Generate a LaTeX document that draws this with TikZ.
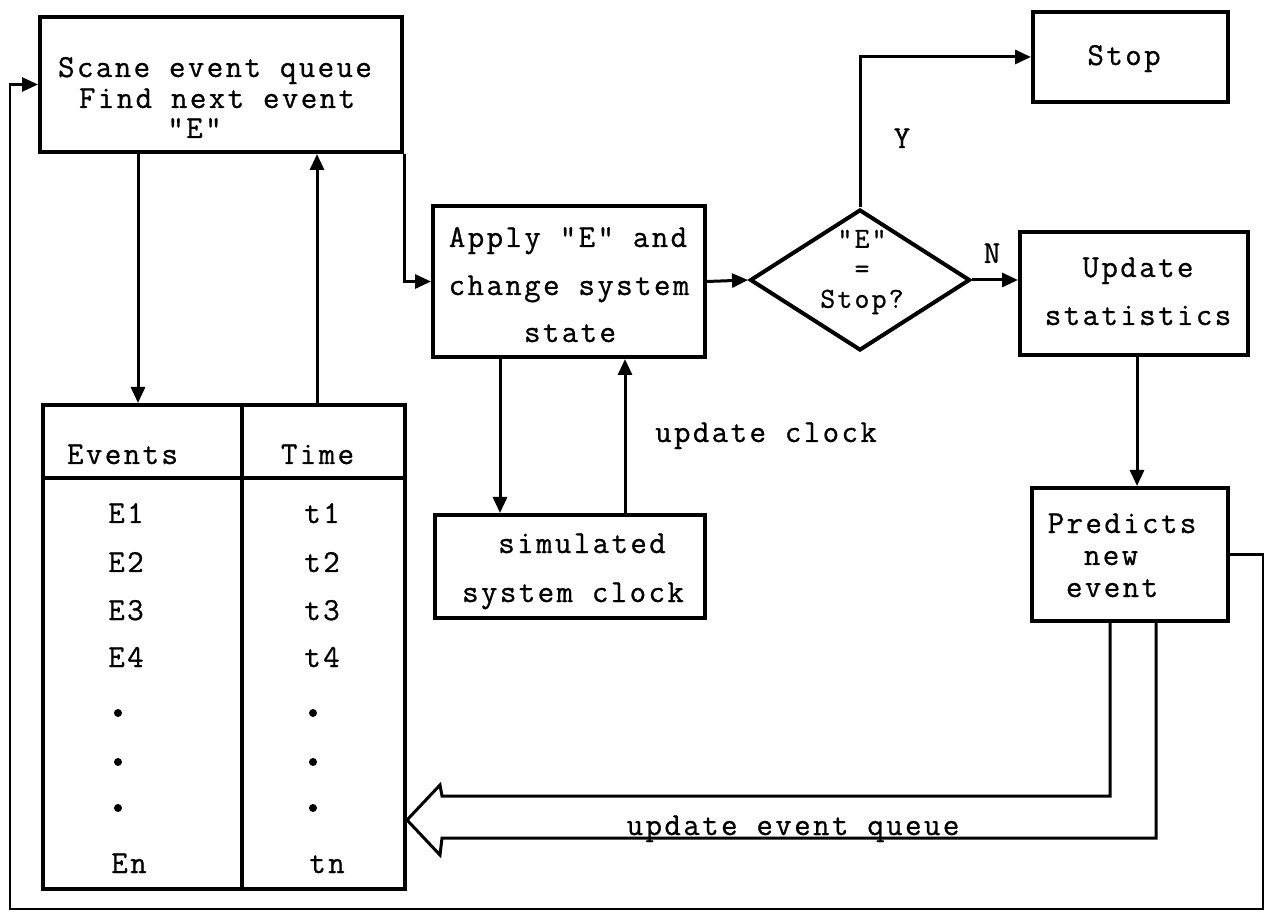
\documentclass[tikz,border=0pt]{standalone}
\usepackage{fontspec}
\newfontfamily\tw{Latin Modern Mono}[LetterSpace=7.5,FakeBold=0.8]
\usetikzlibrary{shapes.geometric,arrows.meta}
\begin{document}
\begin{tikzpicture}[x=0.5pt,y=-0.5pt,
  box/.style={draw,line width=2pt,rectangle,inner sep=0pt},
  conn/.style={line width=1.5pt,-{Triangle[length=8pt,width=7pt]}},
  plain/.style={line width=1.5pt,line join=miter},
  txt/.style={font=\tw\fontsize{16}{16}\selectfont,inner sep=0pt,anchor=base}]
\useasboundingbox (0,0) rectangle (1267,913);

% boxes
\node[box,minimum width=181pt,minimum height=67.5pt] (scan) at (221,84.5) {};
\node[box,minimum width=136pt,minimum height=75.5pt] (apply) at (569,281.5) {};
\node[box,minimum width=135pt,minimum height=51.5pt] (clock) at (570,566.5) {};
\node[box,minimum width=97.5pt,minimum height=45pt] (stop) at (1130.5,57) {};
\node[box,minimum width=114pt,minimum height=61.5pt] (upd) at (1134,293.5) {};
\node[box,minimum width=98pt,minimum height=66.5pt] (pred) at (1130,554.5) {};
\node[box,minimum width=181pt,minimum height=242pt] (tab) at (224,647) {};
\node[draw,line width=2pt,shape=diamond,inner sep=0pt,minimum width=110pt,minimum height=70.5pt] (dia) at (860,280) {};

% table rules
\coordinate (dv) at (242,0);
\coordinate (hl) at (0,478);
\draw[line width=2pt] (tab.north -| dv) -- (tab.south -| dv);
\draw[line width=2pt] (tab.west |- hl) -- (tab.east |- hl);

% helper coordinates
\coordinate (xa) at (138,0);
\coordinate (xb) at (317,0);
\coordinate (xc) at (1137,0);
\coordinate (xd) at (500,0);
\coordinate (xe) at (625,0);
\coordinate (xf) at (1110,0);
\coordinate (xg) at (1156,0);
\coordinate (hu) at (442,796);
\coordinate (hl2) at (442,838);
\coordinate (hb1) at (440,785);
\coordinate (hb2) at (440,855);
\coordinate (ht) at (407,820);
\coordinate (rb) at (1263,909);
\coordinate (lb) at (10,909);

% connectors
\draw[conn] (scan.south -| xa) -- (tab.north -| xa);
\draw[conn] (tab.north -| xb) -- (scan.south -| xb);
\draw[conn] (scan.south east) |- (apply.west);
\draw[conn] (apply.east) -- (dia.west);
\draw[conn] (dia.north) |- (stop.west);
\draw[conn] (dia.east) -- (dia.east -| upd.west);
\draw[conn] (upd.south -| xc) -- (pred.north -| xc);
\draw[conn] (apply.south -| xd) -- (clock.north -| xd);
\draw[conn] (clock.north -| xe) -- (apply.south -| xe);
\draw[conn,line width=1.3pt] (pred.east) -| (rb) -- (lb) |- (scan.west);
\draw[plain] (pred.south -| xf) |- (hu) -- (hb1) -- (ht) -- (hb2) -- (hl2) -| (pred.south -| xg);

% texts
\node[txt] (s1) at (215,77) {Scane event queue};
\node[txt] (s2) at (217,108) {Find next event};
\node[txt] (s3) at (194.5,138) {"E"};
\node[txt] (a1) at (568,247) {Apply "E" and};
\node[txt] (a2) at (569,295) {change system};
\node[txt] (a3) at (570,342) {state};
\node[txt,anchor=center,align=center,font=\tw\fontsize{14.5}{15}\selectfont] (dtxt) at (862,272) {"E"\\=\\Stop?};
\node[txt] (st) at (1124,65) {Stop};
\node[txt] (ylab) at (902,148) {Y};
\node[txt] (nlab) at (992,263) {N};
\node[txt] (u1) at (1138,277) {Update};
\node[txt] (u2) at (1138,325) {statistics};
\node[txt] (p1) at (1122,533) {Predicts};
\node[txt] (p2) at (1111,565) {new};
\node[txt] (p3) at (1112,597) {event};
\node[txt] (c1) at (582,553) {simulated};
\node[txt] (c2) at (573,602) {system clock};
\node[txt] (uc) at (766,442) {update clock};
\node[txt] (ue) at (793,835) {update event queue};
\node[txt] (ev) at (122.5,464) {Events};
\node[txt] (tm) at (317.5,464) {Time};
\node[txt] (e1) at (126,523) {E1};
\node[txt] (e2) at (126,572) {E2};
\node[txt] (e3) at (126,620) {E3};
\node[txt] (e4) at (126,667) {E4};
\node[txt] (en) at (129,873) {En};
\node[txt] (t1) at (322,523) {t1};
\node[txt] (t2) at (322,572) {t2};
\node[txt] (t3) at (322,620) {t3};
\node[txt] (t4) at (322,667) {t4};
\node[txt] (tn) at (327,873) {tn};
\foreach \yy in {713,762,808} {
  \fill (118,\yy) circle[radius=4];
  \fill (313,\yy) circle[radius=4];
}
\end{tikzpicture}
\end{document}
